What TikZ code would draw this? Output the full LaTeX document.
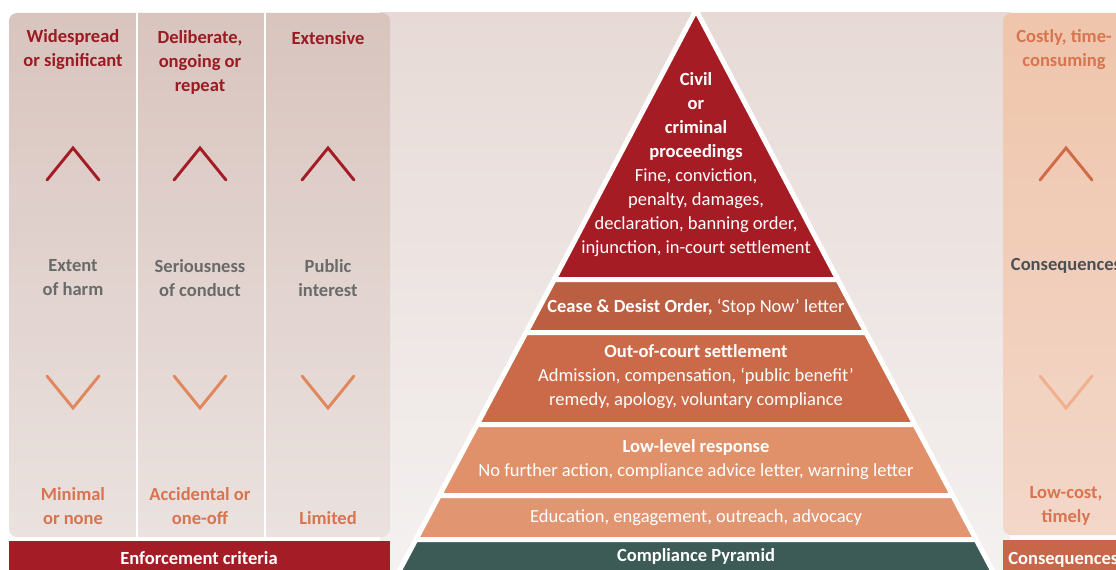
\documentclass[tikz,border=0pt]{standalone}
\usepackage{fontspec}
\setmainfont{Carlito}
\definecolor{dred}{HTML}{A41C25}
\definecolor{toptxt}{HTML}{9B1B22}
\definecolor{lowtxt}{HTML}{D8744F}
\definecolor{midtxt}{HTML}{6A6A6A}
\definecolor{conseqtxt}{HTML}{4B5055}
\definecolor{chevdown}{HTML}{E0875E}
\definecolor{rchevup}{HTML}{D06A48}
\definecolor{rchevdown}{HTML}{F0B08D}
\definecolor{lpaneltop}{HTML}{D9C4BE}
\definecolor{lpanelbot}{HTML}{EAE2DF}
\definecolor{mbgtop}{HTML}{E7DAD6}
\definecolor{mbgbot}{HTML}{F4F1F0}
\definecolor{rpaneltop}{HTML}{EFC5AB}
\definecolor{rpanelbot}{HTML}{F3D7C9}
\definecolor{layerA}{HTML}{A51C24}
\definecolor{layerB}{HTML}{BC5E41}
\definecolor{layerC}{HTML}{CB6A48}
\definecolor{layerD}{HTML}{E0916A}
\definecolor{layerE}{HTML}{E29571}
\definecolor{layerF}{HTML}{3D5B56}
\definecolor{rbar}{HTML}{C8664A}
\newcommand{\fsz}{\fontsize{13.9}{18}\selectfont}
\tikzset{
  lbl/.style={align=center,font=\fsz,inner sep=0pt},
  toplbl/.style={lbl,text=toptxt,font=\fsz\bfseries},
  lowlbl/.style={lbl,text=lowtxt,font=\fsz\bfseries},
  midlbl/.style={lbl,text=midtxt,font=\fsz\bfseries},
  wlbl/.style={lbl,text=white},
  layer/.style={draw=white,line width=3.75pt,line join=round},
  chev/.style={line width=2.2pt,line cap=round,line join=miter},
}
\begin{document}
\begin{tikzpicture}[x=0.75pt,y=-0.75pt]
\useasboundingbox (0,0) rectangle (1116,570);
\clip (0,0) rectangle (1116,570);
\fill[white] (0,0) rectangle (1116,570);
% middle background
\shade[top color=mbgtop,bottom color=mbgbot] (380,13) rectangle (1010,570);
% left panel
\shade[top color=lpaneltop,bottom color=lpanelbot,rounded corners=6pt] (9,13) rectangle (390,537);
\draw[white,line width=2.2pt] (137,13) -- (137,537);
\draw[white,line width=2.2pt] (265,13) -- (265,537);
% right panel
\shade[top color=rpaneltop,bottom color=rpanelbot,rounded corners=6pt] (1003,13) rectangle (1140,535);
% bottom bars
\fill[dred] (9,541) rectangle (390,572);
\fill[rbar] (1003,540) rectangle (1140,572);
\node[wlbl,font=\fsz\bfseries] (enf) at (199,558) {Enforcement criteria};
\node[wlbl,font=\fsz\bfseries,anchor=west] (conbar) at (1008,560) {Consequences};

% pyramid layers
\fill[layerA,layer] (696,10) -- (837.8,279.5) -- (554.2,279.5) -- cycle;
\fill[layerB,layer] (554.2,279.5) -- (837.8,279.5) -- (866.0,332.5) -- (526.0,332.5) -- cycle;
\fill[layerC,layer] (526.0,332.5) -- (866.0,332.5) -- (914.9,424.5) -- (477.1,424.5) -- cycle;
\fill[layerD,layer] (477.1,424.5) -- (914.9,424.5) -- (952.7,495.5) -- (439.3,495.5) -- cycle;
\fill[layerE,layer] (439.3,495.5) -- (952.7,495.5) -- (976.1,539.5) -- (415.9,539.5) -- cycle;
\fill[layerF,layer] (415.9,539.5) -- (976.1,539.5) -- (997.6,580) -- (394.4,580) -- cycle;

% pyramid texts
\node[wlbl] (civ) at (696,165) {\textbf{Civil}\\\textbf{or}\\\textbf{criminal}\\\textbf{proceedings}\\Fine, conviction,\\penalty, damages,\\declaration, banning order,\\injunction, in-court settlement};
\node[wlbl] (cease) at (696,307) {\textbf{Cease \& Desist Order,} ‘Stop Now’ letter};
\node[wlbl] (ooc) at (696,377) {\textbf{Out-of-court settlement}\\Admission, compensation, ‘public benefit’\\remedy, apology, voluntary compliance};
\node[wlbl] (low) at (696,460) {\textbf{Low-level response}\\No further action, compliance advice letter, warning letter};
\node[wlbl] (edu) at (696,518) {Education, engagement, outreach, advocacy};
\node[wlbl,font=\fsz\bfseries] (cp) at (696,556) {Compliance Pyramid};

% left column texts
\node[toplbl] (t1) at (73,50) {Widespread\\or significant};
\node[toplbl] (t2) at (200,62) {Deliberate,\\ongoing or\\repeat};
\node[toplbl] (t3) at (328,38) {Extensive};
\node[midlbl] (m1) at (73,278) {Extent\\of harm};
\node[midlbl] (m2) at (200,278) {Seriousness\\of conduct};
\node[midlbl] (m3) at (328,278) {Public\\interest};
\node[lowlbl] (b1) at (73,506) {Minimal\\or none};
\node[lowlbl] (b2) at (200,506) {Accidental or\\one-off};
\node[lowlbl] (b3) at (328,518) {Limited};

% right column texts
\node[lbl,text=lowtxt,font=\fsz\bfseries] (rt) at (1064,50) {Costly, time-\\consuming};
\node[lbl,text=conseqtxt,font=\fsz\bfseries] (rm) at (1066,266) {Consequences};
\node[lowlbl] (rb) at (1066,506) {Low-cost,\\timely};

% chevrons
\foreach \cx in {73,200,328}{
  \draw[chev,dred] (\cx-26,180) -- (\cx,148) -- (\cx+26,180);
  \draw[chev,chevdown] (\cx-26,376) -- (\cx,408) -- (\cx+26,376);
}
\draw[chev,rchevup] (1040,180) -- (1066,148) -- (1092,180);
\draw[chev,rchevdown] (1040,376) -- (1066,408) -- (1092,376);
\end{tikzpicture}
\end{document}
